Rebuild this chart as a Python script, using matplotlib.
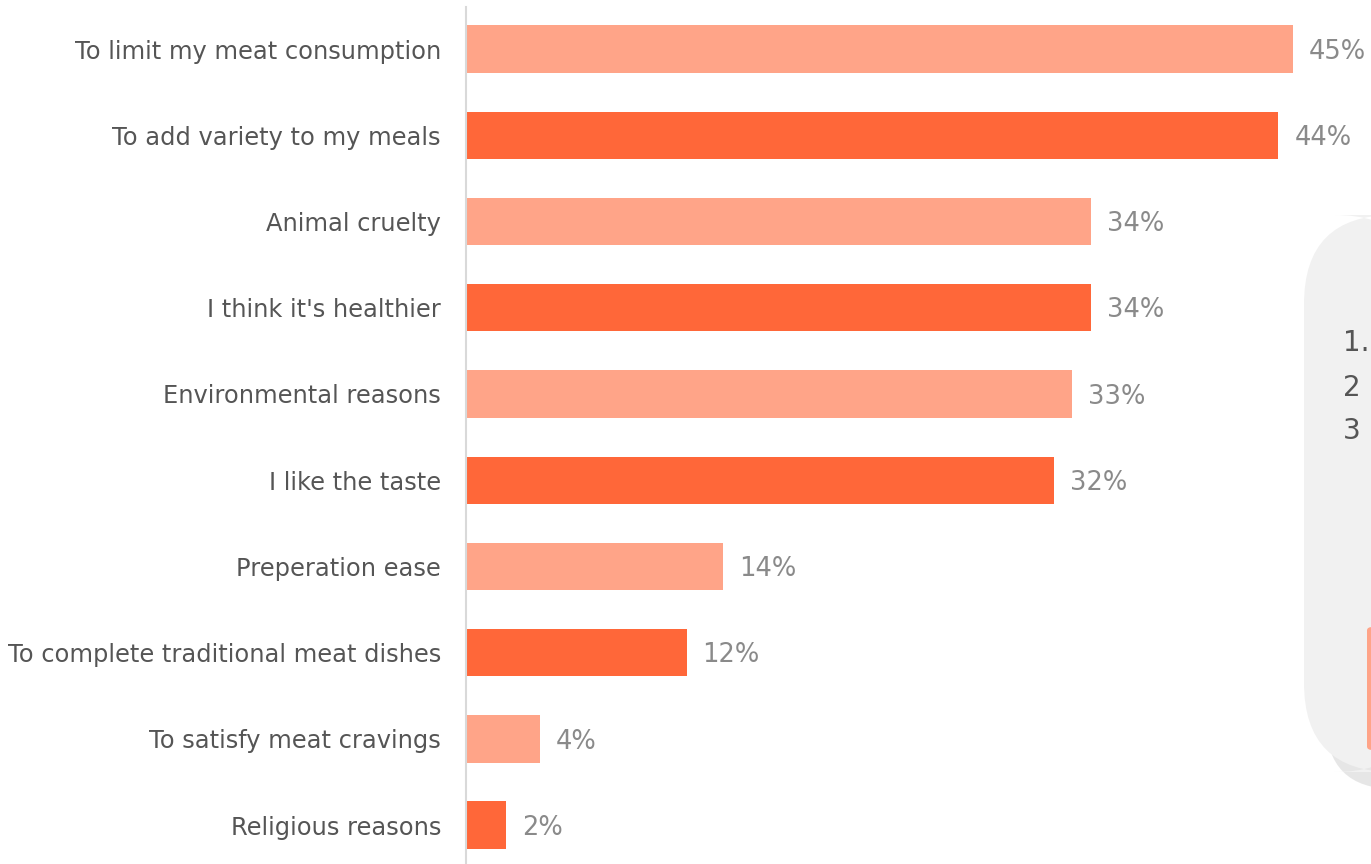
import matplotlib
matplotlib.use("Agg")
import matplotlib.pyplot as plt
from matplotlib.patches import FancyBboxPatch

reasons = [
    "To limit my meat consumption",
    "To add variety to my meals",
    "Animal cruelty",
    "I think it's healthier",
    "Environmental reasons",
    "I like the taste",
    "Preperation ease",
    "To complete traditional meat dishes",
    "To satisfy meat cravings",
    "Religious reasons",
]
shares = [45.0, 44.2, 34.0, 34.0, 33.0, 32.0, 14.0, 12.0, 4.0, 2.2]
value_labels = ["45%", "44%", "34%", "34%", "33%", "32%", "14%", "12%", "4%", "2%"]
light, dark = "#FFA488", "#FF6739"
colors = [light if i % 2 == 0 else dark for i in range(len(reasons))]

W, H = 1371, 864
fig = plt.figure(figsize=(W / 100, H / 100), dpi=100)
fig.patch.set_facecolor("white")

# side panel peeking in from the right edge (drawn first, behind the axes)
shadow = FancyBboxPatch((1326 / W, (H - 789) / H), 120 / W, 500 / H,
                        boxstyle="round,pad=0,rounding_size=0.05",
                        transform=fig.transFigure, fc="#cfcfcf", ec="none",
                        alpha=0.5, mutation_aspect=W / H)
panel = FancyBboxPatch((1304 / W, (H - 772) / H), 120 / W, 557 / H,
                       boxstyle="round,pad=0,rounding_size=0.065",
                       transform=fig.transFigure, fc="#f1f1f1", ec="none",
                       mutation_aspect=W / H)
accent = FancyBboxPatch((1367 / W, (H - 750) / H), 10 / W, 123 / H,
                        boxstyle="round,pad=0,rounding_size=0.004",
                        transform=fig.transFigure, fc=light, ec="none")
for p in (shadow, panel, accent):
    fig.patches.append(p)
for txt, y in [("1.", 343), ("2", 388), ("3", 431)]:
    fig.text(1343 / W, 1 - y / H, txt, fontsize=20, color="#555555",
             va="center", ha="left")

ax = fig.add_axes([466 / W, 0, (W - 466) / W, (H - 7) / H])
ax.set_facecolor("none")
px_per_unit = (1294 - 467) / 45.0
ax.barh(range(len(reasons)), shares, height=0.55, color=colors)
ax.set_xlim(0, (W - 466) / px_per_unit)
ax.set_ylim(9.45, -0.487)

for i, (v, lab) in enumerate(zip(shares, value_labels)):
    ax.text(v + 16 / px_per_unit, i + 0.03, lab, va="center", ha="left",
            fontsize=18.5, color="#8a8a8a", clip_on=False)

ax.set_yticks(range(len(reasons)))
ax.set_yticklabels(reasons, fontsize=17.4, color="#555555")
ax.tick_params(axis="y", length=0, pad=18)
ax.set_xticks([])
for s in ("top", "right", "bottom"):
    ax.spines[s].set_visible(False)
ax.spines["left"].set_color("#d9d9d9")
ax.spines["left"].set_linewidth(1.5)

fig.savefig("out.png", dpi=100, facecolor="white")
